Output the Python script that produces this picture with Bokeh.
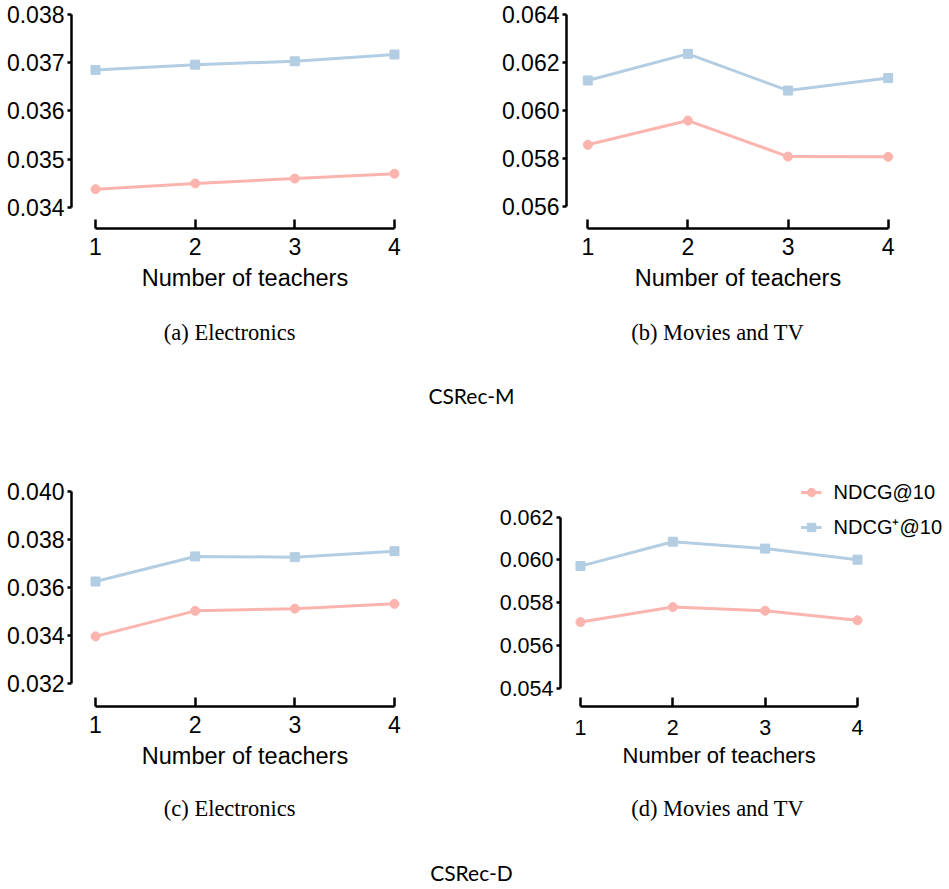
from bokeh.plotting import figure
from bokeh.models import Range1d, FixedTicker, NumeralTickFormatter, Legend, LegendItem, ColumnDataSource, Title
from bokeh.layouts import column, row
from bokeh.embed import file_html
from bokeh.resources import INLINE
from bokeh.core.properties import value

# ---------------- data ----------------
teachers = [1, 2, 3, 4]

# CSRec-M, Electronics
m_elec_ndcg = [0.03438, 0.03450, 0.03460, 0.03470]
m_elec_ndcgp = [0.03685, 0.03696, 0.03703, 0.03717]
# CSRec-M, Movies and TV
m_mov_ndcg = [0.05857, 0.05958, 0.05808, 0.05807]
m_mov_ndcgp = [0.06125, 0.06236, 0.06083, 0.06135]
# CSRec-D, Electronics
d_elec_ndcg = [0.03397, 0.03503, 0.03512, 0.03532]
d_elec_ndcgp = [0.03625, 0.03729, 0.03726, 0.03751]
# CSRec-D, Movies and TV
d_mov_ndcg = [0.05709, 0.05779, 0.05762, 0.05717]
d_mov_ndcgp = [0.05971, 0.06085, 0.06053, 0.06001]

yticks_a = [0.034, 0.035, 0.036, 0.037, 0.038]
yticks_b = [0.056, 0.058, 0.060, 0.062, 0.064]
yticks_c = [0.032, 0.034, 0.036, 0.038, 0.040]
yticks_d = [0.054, 0.056, 0.058, 0.060, 0.062]

series_labels = ["NDCG@10", "NDCG\u207a@10"]
xlabel = "Number of teachers"
captions_top = ["(a)  Electronics", "(b)  Movies and TV", "CSRec-M"]
captions_bottom = ["(c)  Electronics", "(d)  Movies and TV", "CSRec-D"]

RED = "#FBB4AE"
BLUE = "#B3CDE3"
SANS = "Liberation Sans"


def panel(red, blue, yticks, xr, yr, width, height, mb, fs_tick, fs_label,
          tick_standoff=9, label_standoff=7, legend=False, label_as_title_offset=None):
    p = figure(width=width, height=height, output_backend="svg", toolbar_location=None,
               x_range=Range1d(*xr), y_range=Range1d(*yr),
               min_border_left=mb[0], min_border_right=mb[1],
               min_border_top=mb[2], min_border_bottom=mb[3])
    p.outline_line_color = None
    p.grid.visible = False
    p.background_fill_color = "white"
    p.border_fill_color = "white"
    src = ColumnDataSource(dict(x=teachers, r=red, b=blue))
    lr = p.line("x", "r", source=src, line_color=RED, line_width=3)
    sr = p.scatter("x", "r", source=src, marker="circle", size=9, fill_color=RED, line_color=RED)
    lb = p.line("x", "b", source=src, line_color=BLUE, line_width=3)
    sb = p.scatter("x", "b", source=src, marker="square", size=9, fill_color=BLUE, line_color=BLUE)

    xa = p.xaxis[0]
    xa.ticker = FixedTicker(ticks=teachers)
    xa.bounds = (teachers[0], teachers[-1])
    xa.axis_line_width = 2.5
    xa.major_tick_line_width = 2.5
    xa.major_tick_in = 9
    xa.major_tick_out = 0
    xa.minor_tick_line_color = None
    xa.major_label_text_font = SANS
    xa.major_label_text_font_size = fs_tick
    xa.major_label_text_color = "black"
    xa.major_label_standoff = tick_standoff
    if label_as_title_offset is None:
        xa.axis_label = xlabel
        xa.axis_label_text_font = SANS
        xa.axis_label_text_font_style = "normal"
        xa.axis_label_text_font_size = fs_label
        xa.axis_label_text_color = "black"
        xa.axis_label_standoff = label_standoff
    else:
        t = Title(text=xlabel, align="left", offset=label_as_title_offset,
                  text_font=SANS, text_font_style="normal", text_font_size=fs_label,
                  text_color="black", standoff=label_standoff)
        p.add_layout(t, "below")

    ya = p.yaxis[0]
    ya.ticker = FixedTicker(ticks=yticks)
    ya.bounds = (yticks[0], yticks[-1])
    ya.formatter = NumeralTickFormatter(format="0.000")
    ya.axis_line_width = 2.5
    ya.major_tick_line_width = 2.5
    ya.major_tick_in = 0
    ya.major_tick_out = 4
    ya.minor_tick_line_color = None
    ya.major_label_text_font = SANS
    ya.major_label_text_font_size = fs_tick
    ya.major_label_text_color = "black"
    ya.major_label_standoff = 3

    if legend:
        leg = Legend(items=[LegendItem(label=series_labels[0], renderers=[lr, sr]),
                            LegendItem(label=series_labels[1], renderers=[lb, sb])],
                     location="top_right", margin=0, padding=0, border_line_color=None,
                     background_fill_alpha=0, glyph_width=21, glyph_height=24, spacing=9,
                     label_standoff=12, label_text_font=SANS, label_text_font_size="20px",
                     label_text_color="black")
        p.add_layout(leg)
    return p


pa = panel(m_elec_ndcg, m_elec_ndcgp, yticks_a, (0.759, 4.241), (0.033565, 0.038207),
           475, 300, (71, 57, 4, 72), "23px", "23.5px")
pb = panel(m_mov_ndcg, m_mov_ndcgp, yticks_b, (0.787, 4.213), (0.055083, 0.064417),
           474, 300, (91, 40, 4, 72), "23px", "23.5px")
pc = panel(d_elec_ndcg, d_elec_ndcgp, yticks_c, (0.759, 4.241), (0.031057, 0.040444),
           475, 310, (71, 57, 10, 74), "23px", "23.5px")
pd = panel(d_mov_ndcg, d_mov_ndcgp, yticks_d, (0.7834, 4.921), (0.053135, 0.063717),
           474, 310, (85, 7, 5, 69), "21.5px", "22px", tick_standoff=13, label_standoff=7,
           legend=True, label_as_title_offset=62)


def caption_fig(height, texts, ys):
    c = figure(width=949, height=height, output_backend="svg", toolbar_location=None,
               x_range=Range1d(0, 949), y_range=Range1d(height, 0),
               x_axis_type=None, y_axis_type=None,
               min_border_left=0, min_border_right=0, min_border_top=0, min_border_bottom=0)
    c.outline_line_color = None
    c.grid.visible = False
    c.text(x=[232, 720], y=[ys[0], ys[0]], text=texts[:2], text_font=value("Liberation Serif"),
           text_font_size="22.5px", text_align="center", text_baseline="middle", text_color="black")
    c.text(x=[471], y=[ys[1]], text=[texts[2]], text_font=value("Lato"),
           text_font_size="21px", text_align="center", text_baseline="middle", text_color="black")
    return c


cap1 = caption_fig(170, captions_top, (32, 95))
cap2 = caption_fig(109, captions_bottom, (28, 92))

layout = column(row(pa, pb, spacing=0), cap1, row(pc, pd, spacing=0), cap2, spacing=0)

open("out.html", "w").write(file_html(layout, INLINE))
